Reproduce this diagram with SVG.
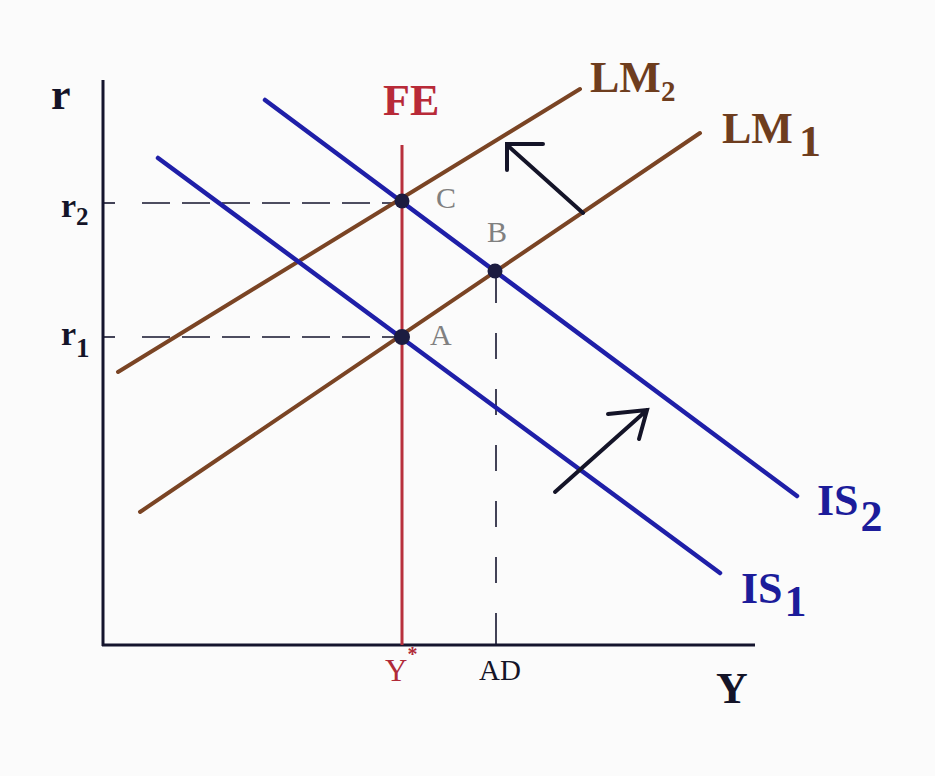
<svg xmlns="http://www.w3.org/2000/svg" width="935" height="776" viewBox="0 0 935 776">
<style>
.ax{stroke:#15152e;stroke-width:3;fill:none}
.dash{stroke:#15152e;stroke-width:1.6;stroke-dasharray:28 12;fill:none}
.lm{stroke:#7a4424;stroke-width:4;fill:none;stroke-linecap:round}
.is{stroke:#1f1fa8;stroke-width:4.5;fill:none;stroke-linecap:round}
.fe{stroke:#b8303c;stroke-width:3;fill:none}
.arr{stroke:#141428;stroke-width:4;fill:none;stroke-linecap:round}
.dot{fill:#1c1c40}
text{font-family:"Liberation Serif","Times New Roman",serif}
.t-lm{fill:#6e3d1e;font-weight:bold;font-size:44px}
.t-is{fill:#1c1c9a;font-weight:bold;font-size:44px}
.t-pt{fill:#808080;font-size:30px}
.t-ax{fill:#141428;font-weight:bold;font-size:44px}
</style>
<rect width="935" height="776" fill="#fbfbfb"/>
<g id="axes">
<line class="ax" x1="103" y1="80" x2="103" y2="646"/>
<line class="ax" x1="102" y1="645" x2="755" y2="645"/>
<line class="ax" x1="103" y1="203" x2="115" y2="203" style="stroke-width:1.6"/>
<line class="ax" x1="103" y1="337" x2="115" y2="337" style="stroke-width:1.6"/>
<line class="ax" x1="496" y1="632" x2="496" y2="645" style="stroke-width:1.6"/>
</g>
<g id="connectors">
<line class="dash" x1="142" y1="203" x2="402" y2="203"/>
<line class="dash" x1="142" y1="337" x2="402" y2="337"/>
<line class="dash" x1="496" y1="277" x2="496" y2="632" style="stroke-dasharray:26 30"/>
</g>
<g id="FE"><line class="fe" x1="402" y1="145" x2="402" y2="645"/>
<text x="383" y="115" fill="#b82a38" font-weight="bold" font-size="44">FE</text></g>
<g id="LM2"><line class="lm" x1="118" y1="372" x2="580" y2="89"/>
<text class="t-lm" x="590" y="92">LM<tspan font-size="29" dy="9">2</tspan></text></g>
<g id="LM1"><line class="lm" x1="140" y1="512" x2="700" y2="133"/>
<text class="t-lm" x="722" y="143">LM<tspan dx="6" dy="13">1</tspan></text></g>
<g id="IS1"><line class="is" x1="158" y1="158" x2="720" y2="573"/>
<text class="t-is" x="741" y="603">IS<tspan dx="2" dy="13">1</tspan></text></g>
<g id="IS2"><line class="is" x1="265" y1="100" x2="797" y2="496"/>
<text class="t-is" x="817" y="515">IS<tspan dx="2" dy="16">2</tspan></text></g>
<g id="arrows">
<path class="arr" d="M583 213 L507 145 M543 144 L507 144 L507 170"/>
<path class="arr" d="M555 492 L647 410 M608 414 L647 410 L639 439"/>
</g>
<g id="C"><circle class="dot" cx="402" cy="201" r="7.5"/><text class="t-pt" x="436" y="208">C</text></g>
<g id="B"><circle class="dot" cx="495" cy="271" r="7.5"/><text class="t-pt" x="487" y="242">B</text></g>
<g id="A"><circle class="dot" cx="402" cy="337" r="8"/><text class="t-pt" x="430" y="345">A</text></g>
<g id="labels">
<text class="t-ax" x="51" y="109">r</text>
<text x="61" y="217" font-size="34" fill="#141428" font-weight="bold">r<tspan font-size="25" dy="8">2</tspan></text>
<text x="61" y="345" font-size="34" fill="#141428" font-weight="bold">r<tspan font-size="27" dy="12">1</tspan></text>
<text x="385" y="681" font-size="31" fill="#b02a38">Y<tspan font-size="20" dy="-20" font-weight="bold">*</tspan></text>
<text x="479" y="680" font-size="29" fill="#141428">AD</text>
<text class="t-ax" x="716" y="703">Y</text>
</g>
</svg>
